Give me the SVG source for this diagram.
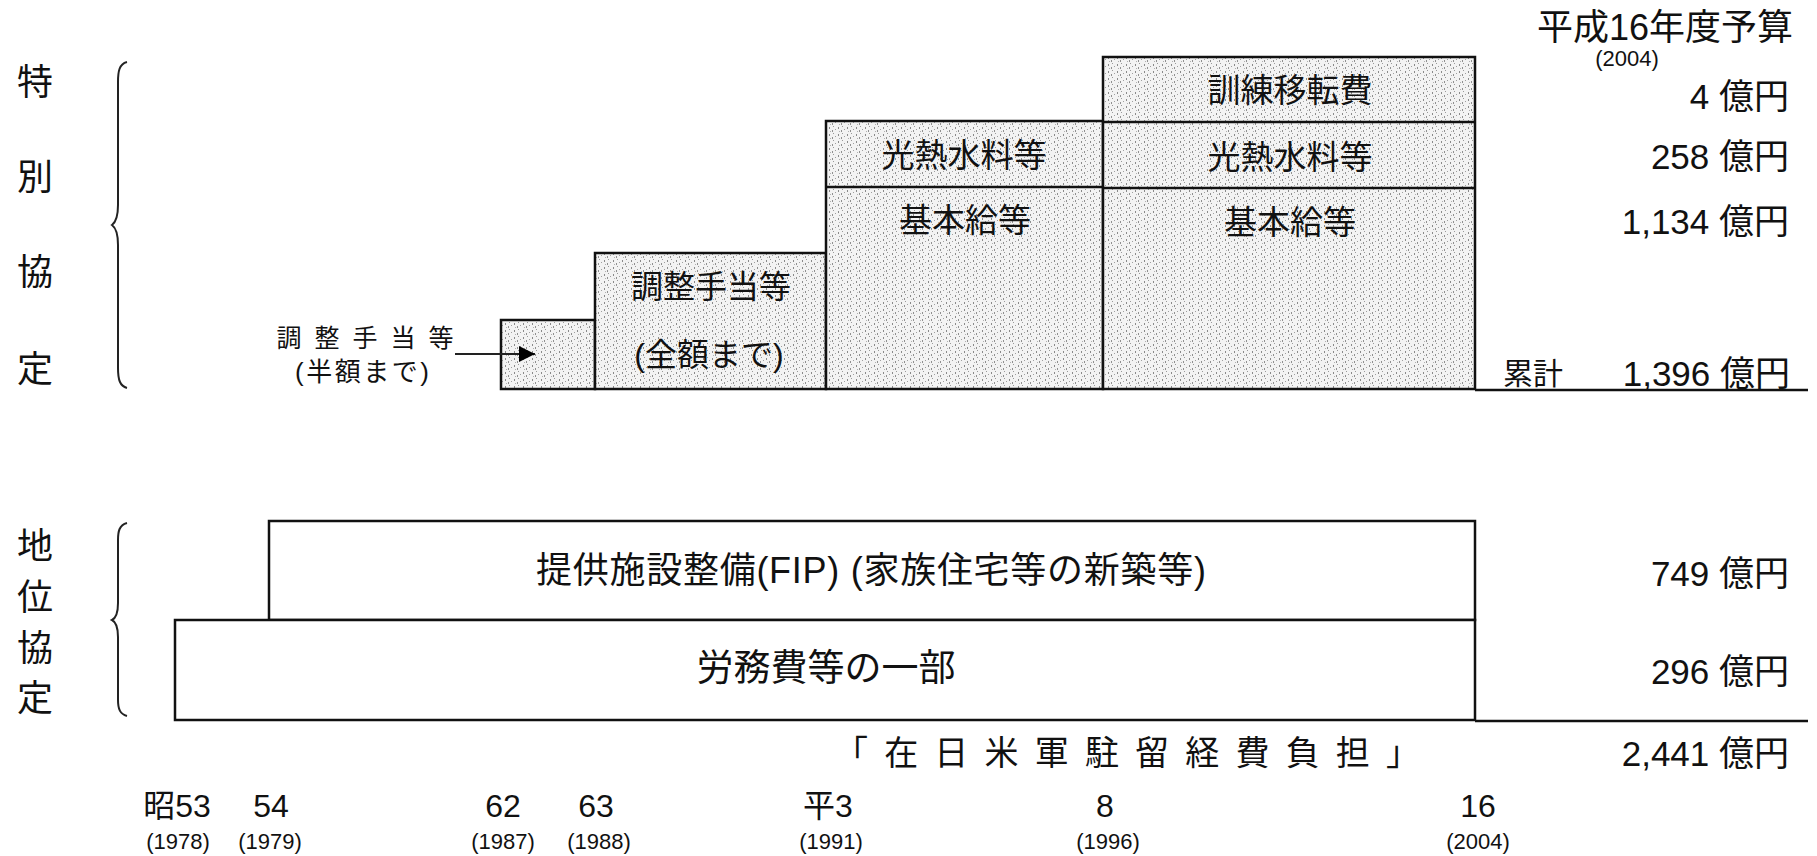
<svg xmlns="http://www.w3.org/2000/svg" width="1817" height="856" viewBox="0 0 1817 856">
<defs>
<pattern id="stip" width="9" height="7" patternUnits="userSpaceOnUse">
<rect width="9" height="7" fill="#f3f3f3"/>
<rect x="1" y="1" width="1" height="2" fill="#8a8a8a"/>
<rect x="5" y="0" width="1" height="1" fill="#9a9a9a"/>
<rect x="4" y="4" width="1" height="2" fill="#909090"/>
<rect x="7" y="3" width="1" height="1" fill="#a0a0a0"/>
<rect x="2" y="5" width="1" height="1" fill="#b0b0b0"/>
</pattern>
<marker id="ah" viewBox="0 0 10 10" refX="10" refY="5" markerWidth="16" markerHeight="16" markerUnits="userSpaceOnUse" orient="auto">
<path d="M0,0 L10,5 L0,10 Z" fill="#000"/>
</marker>
<style>
text{font-family:"Liberation Sans","Noto Sans CJK JP",sans-serif;fill:#111;dominant-baseline:central}
.box{fill:url(#stip);stroke:#111;stroke-width:2.5}
.wbox{fill:#fff;stroke:#111;stroke-width:2.5}
.c{text-anchor:middle}
.e{text-anchor:end}
.f33{font-size:33px}
.f35{font-size:35px}
.f36{font-size:36px}
.yr{font-size:32px;text-anchor:middle}
.yp{font-size:22px;text-anchor:middle}
.brace{fill:none;stroke:#222;stroke-width:2}
.base{stroke:#111;stroke-width:2.5;fill:none}
</style>
</defs>
<rect width="1817" height="856" fill="#fff"/>

<g id="label-tokubetsu">
<text x="35" y="82" class="c f36">特</text>
<text x="35" y="177" class="c f36">別</text>
<text x="35" y="272" class="c f36">協</text>
<text x="35" y="369" class="c f36">定</text>
<path class="brace" d="M127,62 C119,64 118,72 118,82 L118,205 C118,216 116,222 112,225 C116,228 118,234 118,245 L118,368 C118,380 120,386 127,388"/>
</g>

<g id="label-chii">
<text x="35" y="546" class="c f36">地</text>
<text x="35" y="597" class="c f36">位</text>
<text x="35" y="648" class="c f36">協</text>
<text x="35" y="698" class="c f36">定</text>
<path class="brace" d="M127,523 C119,525 118,532 118,540 L118,603 C118,613 116,618 112,620 C116,622 118,627 118,637 L118,700 C118,709 120,714 127,716"/>
</g>

<g id="node-chosei-half">
<rect class="box" x="501" y="320" width="94" height="69"/>
<text x="365" y="338" class="c" font-size="25" textLength="177">調 整 手 当 等</text>
<text x="362" y="372" class="c" font-size="26" textLength="134">(半額まで)</text>
</g>

<g id="node-chosei-full">
<rect class="box" x="595" y="253" width="231" height="136"/>
<text x="711" y="287" class="c" font-size="32">調整手当等</text>
<text x="709" y="355" class="c" font-size="32">(全額まで)</text>
</g>

<g id="node-col3">
<rect class="box" x="826" y="121" width="277" height="268"/>
<line class="base" x1="826" y1="187" x2="1103" y2="187"/>
<text x="964" y="155" class="c f33">光熱水料等</text>
<text x="965" y="220" class="c f33">基本給等</text>
</g>

<g id="node-col4">
<rect class="box" x="1103" y="57" width="372" height="332"/>
<line class="base" x1="1103" y1="122" x2="1475" y2="122"/>
<line class="base" x1="1103" y1="188" x2="1475" y2="188"/>
<text x="1290" y="90" class="c f33">訓練移転費</text>
<text x="1290" y="157" class="c f33">光熱水料等</text>
<text x="1290" y="222" class="c f33">基本給等</text>
</g>

<g id="node-budget">
<text x="1793" y="27" class="e" font-size="36">平成16年度予算</text>
<text x="1627" y="58" class="yp">(2004)</text>
<text x="1789" y="96" class="e f35">4 億円</text>
<text x="1789" y="156" class="e f35">258 億円</text>
<text x="1789" y="221" class="e f35">1,134 億円</text>
<text x="1533" y="373" class="c" font-size="30">累計</text>
<text x="1790" y="373" class="e f35">1,396 億円</text>
<text x="1789" y="573" class="e f35">749 億円</text>
<text x="1789" y="671" class="e f35">296 億円</text>
<text x="1789" y="753" class="e f35">2,441 億円</text>
</g>

<g id="node-fip">
<rect class="wbox" x="269" y="521" width="1206" height="99"/>
<text x="871" y="570" class="c f36" textLength="670">提供施設整備(FIP) (家族住宅等の新築等)</text>
</g>

<g id="node-romu">
<rect class="wbox" x="175" y="620" width="1300" height="100"/>
<text x="826" y="668" class="c" font-size="37">労務費等の一部</text>
</g>

<g id="node-total">
<text x="834" y="753" font-size="34" textLength="586">「在日米軍駐留経費負担」</text>
</g>

<g id="axis-years">
<text x="177" y="806" class="yr">昭53</text>
<text x="271" y="806" class="yr">54</text>
<text x="503" y="806" class="yr">62</text>
<text x="596" y="806" class="yr">63</text>
<text x="828" y="806" class="yr">平3</text>
<text x="1105" y="806" class="yr">8</text>
<text x="1478" y="806" class="yr">16</text>
<text x="178" y="841" class="yp">(1978)</text>
<text x="270" y="841" class="yp">(1979)</text>
<text x="503" y="841" class="yp">(1987)</text>
<text x="599" y="841" class="yp">(1988)</text>
<text x="831" y="841" class="yp">(1991)</text>
<text x="1108" y="841" class="yp">(1996)</text>
<text x="1478" y="841" class="yp">(2004)</text>
</g>

<g id="connectors">
<line x1="455" y1="354" x2="535" y2="354" stroke="#222" stroke-width="2" marker-end="url(#ah)"/>
<line class="base" x1="1475" y1="390" x2="1808" y2="390"/>
<line class="base" x1="1475" y1="721" x2="1808" y2="721"/>
</g>
</svg>
